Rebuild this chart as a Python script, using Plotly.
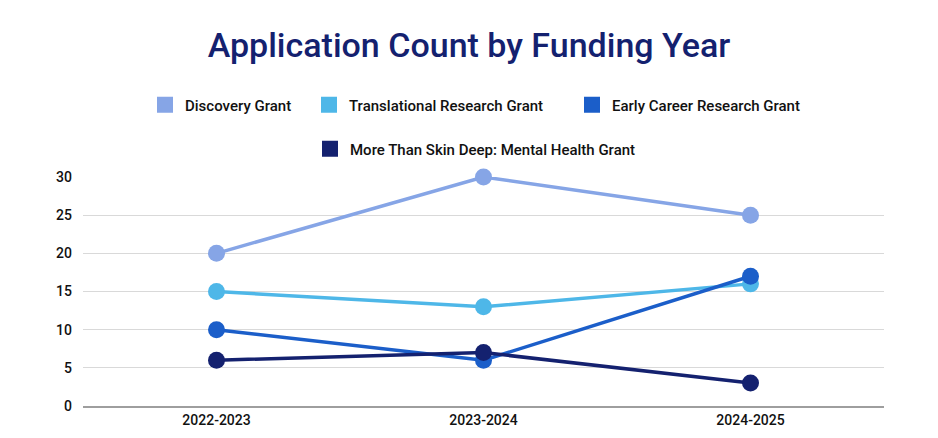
import plotly.graph_objects as go

years = ["2022-2023", "2023-2024", "2024-2025"]
series_names = ["Discovery Grant", "Translational Research Grant",
                "Early Career Research Grant", "More Than Skin Deep: Mental Health Grant"]
discovery = [20, 30, 25]
translational = [15, 13, 16]
early_career = [10, 6, 17]
skin_deep = [6, 7, 3]
colors = ["#86a5e6", "#4eb7e8", "#1b5ec9", "#14216f"]
y_ticks = [0, 5, 10, 15, 20, 25, 30]

values = [discovery, translational, early_career, skin_deep]
FONT = "Roboto"
W, H = 938, 438
OFF = 8  # page body margin

fig = go.Figure()
for name, vals, col in zip(series_names, values, colors):
    fig.add_trace(go.Scatter(
        x=years, y=vals, mode="lines+markers", name=name,
        line=dict(color=col, width=3.5),
        marker=dict(color=col, size=17),
        showlegend=False, cliponaxis=False))

legend_ids = ["legend", "legend2", "legend3", "legend4"]
# legend square left edges (px) and row centres (px from top), page coords
legend_pos = [(157, 105), (321, 105), (584, 105), (322, 149)]
for name, col, lid in zip(series_names, colors, legend_ids):
    fig.add_trace(go.Scatter(
        x=[None], y=[None], mode="markers", name=name,
        marker=dict(color=col, size=17, symbol="square"),
        legend=lid))

legend_common = dict(orientation="h", xref="container", yref="container",
                     xanchor="left", yanchor="middle",
                     font=dict(family=FONT, size=15, color="#111111", weight=500),
                     itemclick=False, itemdoubleclick=False,
                     bgcolor="rgba(0,0,0,0)")
legends = {}
for lid, (px, py) in zip(legend_ids, legend_pos):
    legends[lid] = dict(x=(px - 12 - OFF) / W, y=1 - (py - 8) / H, **legend_common)

fig.update_layout(
    width=W, height=H,
    paper_bgcolor="white", plot_bgcolor="white",
    margin=dict(l=83 - OFF, r=54 + OFF, t=177 - OFF, b=32 + OFF, autoexpand=False),
    title=dict(text="Application Count by Funding Year", x=(469 - OFF) / W, xanchor="center",
               y=1 - (45 - OFF) / H, yanchor="middle",
               font=dict(family=FONT, size=34, color="#14216f", weight=500)),
    xaxis=dict(type="category", range=[-0.5, 2.5], showgrid=False, automargin=False,
               showline=True, linecolor="#9e9e9e", linewidth=1.5,
               ticks="", tickfont=dict(family=FONT, size=14, color="#111111", weight=500)),
    yaxis=dict(range=[0, 30], tickvals=y_ticks, showgrid=True, gridcolor="#d9d9d9",
               gridwidth=1, zeroline=False, showline=False, ticks="", automargin=False,
               ticklabelstandoff=10,
               tickfont=dict(family=FONT, size=14, color="#111111", weight=500)),
    **legends,
)

fig.write_html("out.html")
